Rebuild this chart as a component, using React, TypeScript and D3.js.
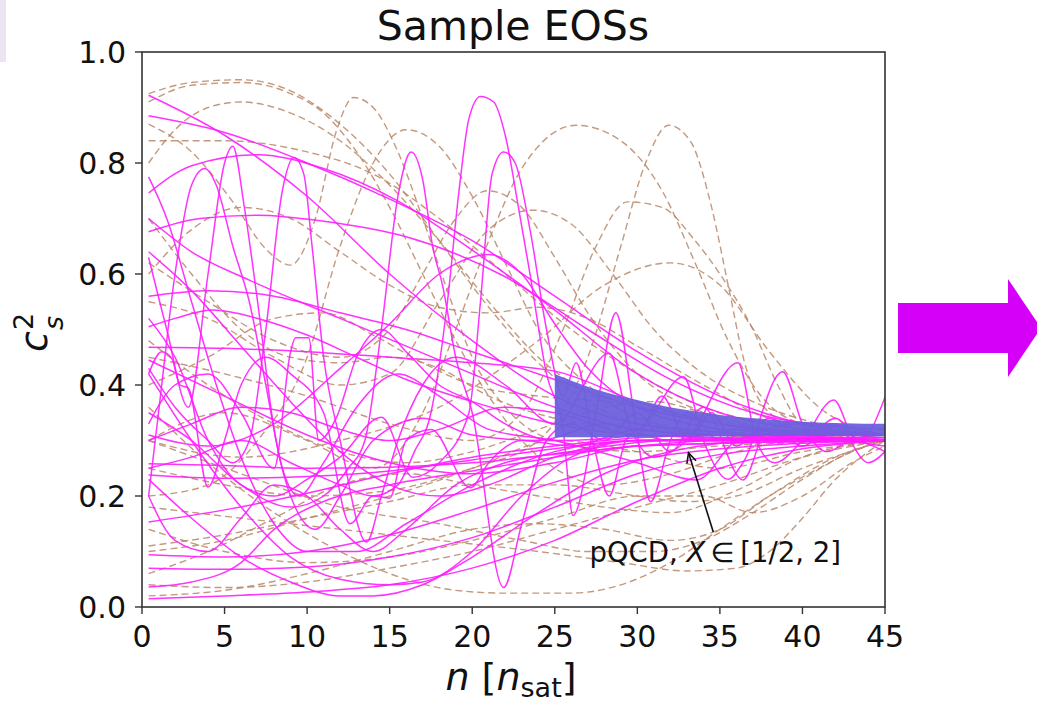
import React from 'react';
import * as d3 from 'd3';

type Pt = [number, number];

const TITLE = 'Sample EOSs';
const X_TICKS = [0, 5, 10, 15, 20, 25, 30, 35, 40, 45];
const Y_TICKS = [0, 0.2, 0.4, 0.6, 0.8, 1.0];

// smooth magenta EOS curves  [n, cs^2]
const MAGENTA_SMOOTH: Pt[][] = [
  [[0.4,0.922],[5,0.85],[10,0.74],[15,0.6],[20,0.48],[25,0.38],[30,0.33],[35,0.315],[40,0.305],[45,0.3]],
  [[0.4,0.885],[5,0.855],[10,0.8],[15,0.735],[20,0.66],[25,0.56],[30,0.46],[35,0.38],[40,0.33],[45,0.31]],
  [[0.4,0.746],[3,0.795],[7,0.815],[11,0.79],[15.4,0.733],[20,0.643],[25,0.535],[30,0.42],[35,0.35],[40,0.32],[45,0.31]],
  [[0.4,0.676],[3.5,0.7],[7,0.706],[11,0.695],[16,0.667],[22,0.595],[27,0.5],[32,0.41],[37,0.35],[42,0.325],[45,0.32]],
  [[0.4,0.7],[3,0.64],[6.5,0.589],[12,0.52],[16,0.47],[20,0.42],[25,0.36],[30,0.32],[35,0.31],[45,0.305]],
  [[0.4,0.56],[4,0.57],[8,0.56],[12,0.53],[16,0.5],[20,0.46],[25,0.41],[30,0.36],[35,0.33],[40,0.31],[45,0.31]],
  [[0.4,0.468],[5,0.466],[10,0.46],[15,0.45],[20,0.44],[25,0.425],[30,0.37],[35,0.33],[40,0.315],[45,0.31]],
  [[0.4,0.31],[4,0.29],[8,0.33],[12,0.43],[15,0.51],[18,0.6],[21,0.635],[23,0.6],[25,0.51],[27,0.43],[30,0.36],[35,0.32],[40,0.3],[45,0.3]],
  [[0.4,0.505],[2,0.52],[4.3,0.535],[7,0.52],[10,0.49],[13,0.45],[16,0.41],[20,0.37],[25,0.33],[30,0.31],[45,0.3]],
  [[0.4,0.258],[5,0.255],[10,0.25],[15,0.252],[20,0.26],[25,0.275],[30,0.29],[35,0.3],[40,0.3],[45,0.3]],
  [[0.4,0.238],[5,0.232],[10,0.235],[15,0.245],[20,0.265],[25,0.285],[30,0.3],[40,0.305],[45,0.3]],
  [[0.4,0.153],[5,0.175],[10,0.205],[15,0.24],[20,0.27],[25,0.29],[30,0.305],[35,0.31],[45,0.31]],
  [[0.4,0.094],[5,0.09],[10,0.1],[15,0.13],[20,0.175],[25,0.225],[30,0.265],[35,0.285],[40,0.295],[45,0.3]],
  [[0.4,0.07],[5,0.068],[10,0.072],[15,0.09],[20,0.125],[25,0.18],[30,0.24],[35,0.275],[40,0.29],[45,0.3]],
  [[0.4,0.036],[3,0.045],[6,0.08],[8,0.14],[11,0.19],[15,0.22],[20,0.245],[25,0.27],[30,0.29],[45,0.3]],
  [[0.4,0.015],[5,0.02],[10,0.027],[15,0.04],[20,0.07],[25,0.12],[30,0.19],[35,0.25],[40,0.285],[45,0.3]],
  [[0.4,0.23],[3,0.16],[6,0.09],[9,0.045],[12,0.02],[14,0.02],[17,0.04],[20,0.09],[24,0.17],[28,0.24],[32,0.28],[38,0.3],[45,0.3]],
  [[0.4,0.42],[3,0.3],[6,0.18],[9,0.09],[12,0.05],[15,0.04],[17,0.045],[20,0.1],[23,0.2],[26,0.27],[30,0.3],[45,0.305]],
  [[0.4,0.445],[5,0.38],[10,0.31],[15,0.26],[20,0.24],[25,0.26],[30,0.29],[45,0.3]],
  [[0.4,0.3],[3,0.33],[6,0.36],[9,0.35],[12,0.32],[15,0.3],[18,0.32],[22,0.36],[25,0.35],[30,0.31],[45,0.3]],
  [[0.4,0.2],[2,0.12],[4,0.1],[6,0.16],[8,0.22],[10,0.2],[12,0.14],[14,0.1],[16,0.14],[19,0.22],[22,0.26],[26,0.28],[32,0.3],[45,0.3]],
  [[0.4,0.775],[1.5,0.7],[3,0.55],[4.5,0.4],[6,0.27],[8,0.15],[10,0.1],[13,0.1],[16,0.15],[20,0.22],[25,0.28],[30,0.3],[45,0.3]],
  [[0.4,0.64],[3,0.57],[6,0.47],[9,0.37],[12,0.28],[15,0.22],[18,0.2],[21,0.22],[25,0.27],[30,0.3],[45,0.3]],
];

// oscillating magenta EOS curves
const MAGENTA_SPIKY: Pt[][] = [
  [[0.4,0.63],[1.5,0.5],[2.8,0.36],[4,0.6],[5,0.8],[5.5,0.83],[6.2,0.72],[7,0.55],[8,0.32],[9,0.2],[10.5,0.14],[12,0.2],[14,0.3],[17,0.34],[20,0.31],[24,0.3],[28,0.33],[32,0.3],[36,0.32],[40,0.3],[45,0.31]],
  [[0.4,0.2],[1,0.35],[2,0.6],[3,0.76],[3.8,0.79],[4.5,0.76],[5.5,0.65],[6.5,0.55],[7.5,0.4],[8.5,0.25],[9.5,0.2],[11,0.26],[13,0.36],[15.5,0.42],[18,0.38],[21,0.32],[25,0.3],[30,0.26],[33.6,0.229],[36,0.3],[40,0.33],[45,0.31]],
  [[0.4,0.43],[2,0.36],[4,0.3],[5.5,0.26],[6.5,0.3],[7.5,0.5],[8.5,0.75],[9.2,0.81],[9.8,0.78],[10.3,0.65],[11,0.45],[12,0.3],[13.6,0.117],[14.5,0.2],[15.5,0.3],[17,0.4],[19,0.45],[22,0.4],[25,0.33],[28.3,0.457],[29.5,0.33],[31,0.27],[33,0.3],[36.1,0.44],[37.2,0.3],[38.3,0.26],[40,0.3],[41.9,0.373],[43.2,0.3],[45,0.29]],
  [[0.4,0.35],[3,0.3],[6,0.22],[9,0.18],[11,0.2],[12.5,0.25],[13.5,0.3],[14.5,0.5],[15.5,0.74],[16.3,0.82],[17,0.77],[17.6,0.65],[18.2,0.58],[19,0.45],[20,0.35],[21.9,0.035],[23,0.15],[24.5,0.3],[26,0.33],[28,0.3],[30,0.35],[32,0.28],[34,0.36],[36.4,0.229],[38,0.33],[40,0.29],[42,0.33],[44,0.26],[45,0.28]],
  [[0.4,0.25],[3,0.27],[6,0.3],[9,0.26],[12,0.22],[14,0.2],[15.5,0.22],[16.5,0.28],[17.5,0.35],[18.5,0.55],[19.2,0.75],[19.8,0.88],[20.5,0.92],[21.3,0.91],[22,0.85],[22.8,0.72],[23.5,0.6],[24.5,0.42],[25.5,0.32],[26.1,0.165],[27.5,0.35],[28.7,0.53],[29.8,0.35],[30.8,0.19],[32,0.3],[33,0.35],[35,0.3],[37,0.32],[40,0.31],[45,0.3]],
  [[0.4,0.52],[2,0.45],[4,0.3],[6,0.22],[8,0.2],[10,0.23],[12,0.27],[14.5,0.342],[16.4,0.234],[18,0.26],[19.8,0.35],[20.5,0.55],[21.2,0.78],[21.9,0.82],[22.6,0.8],[23.5,0.68],[24.5,0.5],[25.5,0.38],[26.3,0.44],[27.3,0.3],[28.3,0.2],[29.3,0.3],[30.5,0.33],[32.8,0.415],[34,0.3],[35.5,0.23],[36.4,0.26],[38.8,0.424],[40,0.33],[41.5,0.28],[43,0.3],[45,0.28]],
  [[0.4,0.33],[2,0.4],[4,0.42],[6,0.35],[8,0.25],[9,0.46],[9.3,0.485],[10.1,0.485],[10.7,0.3],[11.8,0.343],[13,0.45],[14.5,0.5],[16,0.46],[18,0.4],[20,0.37],[22,0.33],[25,0.3],[30,0.31],[31.5,0.38],[33,0.3],[34.5,0.35],[36,0.29],[38,0.34],[40,0.3],[42,0.34],[43.5,0.3],[45,0.378]],
  [[0.4,0.42],[1.2,0.46],[1.8,0.448],[2.3,0.4],[2.8,0.395],[4,0.216],[5,0.3],[6,0.4],[7.5,0.45],[9,0.42],[11,0.35],[12.6,0.15],[14,0.2],[15,0.196],[16,0.3],[17.5,0.32],[19.9,0.215],[21,0.26],[23,0.3],[26,0.29],[30,0.32],[35,0.3],[40,0.32],[45,0.3]],
];

// dashed EOS curves, high-reaching
const DASHED_UPPER: Pt[][] = [
  [[0.4,0.925],[3,0.945],[6,0.95],[9,0.93],[12,0.87],[15,0.78],[18,0.66],[21,0.54],[24,0.44],[27,0.37],[30,0.33],[35,0.31],[45,0.3]],
  [[0.4,0.91],[3,0.94],[6,0.945],[9,0.925],[11,0.89],[13,0.82],[15,0.72],[17,0.6],[19,0.48],[21,0.38],[23,0.3],[25,0.25],[28,0.22],[32,0.24],[36,0.28],[40,0.3],[45,0.3]],
  [[0.4,0.84],[5,0.84],[10,0.82],[14,0.78],[18,0.7],[22,0.6],[26,0.5],[30,0.42],[34,0.36],[38,0.33],[45,0.31]],
  [[0.4,0.8],[2,0.86],[4,0.9],[6,0.91],[9,0.89],[12,0.84],[15,0.76],[18,0.66],[21,0.55],[24,0.45],[28,0.37],[33,0.32],[45,0.3]],
  [[0.4,0.87],[3,0.82],[5.5,0.73],[7.5,0.645],[9,0.616],[10.5,0.7],[11.8,0.86],[12.8,0.918],[14,0.9],[15.5,0.82],[17,0.7],[18.5,0.57],[20,0.45],[22,0.36],[25,0.3],[30,0.28],[35,0.29],[45,0.3]],
  [[0.4,0.2],[4,0.22],[7,0.3],[10,0.45],[12,0.65],[14,0.8],[16,0.86],[18,0.83],[20,0.74],[22,0.62],[24,0.5],[27,0.4],[30,0.34],[35,0.31],[45,0.3]],
  [[0.4,0.3],[5,0.35],[10,0.3],[14,0.25],[17,0.35],[19,0.5],[21,0.66],[23,0.79],[26.3,0.868],[29,0.84],[31.5,0.75],[33.5,0.62],[35.5,0.48],[37.5,0.38],[40,0.33],[45,0.31]],
  [[0.4,0.1],[5,0.12],[10,0.16],[15,0.2],[20,0.25],[24,0.3],[27,0.45],[29,0.65],[30.5,0.8],[31.9,0.868],[33.2,0.84],[34.5,0.72],[35.5,0.58],[36.5,0.44],[38,0.35],[41,0.31],[45,0.3]],
  [[0.4,0.45],[5,0.42],[10,0.38],[15,0.33],[20,0.3],[23,0.35],[25.5,0.5],[27.5,0.65],[29.4,0.73],[31.5,0.72],[33.5,0.66],[35,0.6],[37,0.5],[38.5,0.4],[40,0.33],[45,0.3]],
  [[0.4,0.55],[4,0.52],[8,0.45],[12,0.4],[15,0.42],[18,0.55],[21,0.68],[23.7,0.715],[26,0.69],[28.5,0.6],[31,0.5],[34,0.42],[37,0.37],[41,0.33],[45,0.31]],
  [[0.4,0.62],[4,0.55],[8,0.48],[12,0.45],[15,0.5],[17,0.6],[19,0.7],[20.9,0.75],[23,0.72],[25,0.63],[27,0.53],[30,0.42],[34,0.35],[40,0.31],[45,0.3]],
  [[0.4,0.6],[3,0.68],[6,0.72],[9,0.7],[12,0.64],[15,0.58],[18,0.54],[21,0.53],[24,0.54],[27,0.52],[30,0.47],[34,0.4],[38,0.34],[45,0.31]],
  [[0.4,0.3],[6,0.27],[12,0.3],[18,0.36],[24,0.48],[28,0.58],[32,0.62],[35,0.58],[38,0.46],[41,0.36],[45,0.31]],
];

// dashed EOS curves, low-lying
const DASHED_LOWER: Pt[][] = [
  [[0.4,0.36],[4,0.26],[8,0.17],[12,0.1],[16,0.05],[19,0.03],[22,0.025],[26,0.025],[29,0.04],[32,0.08],[35,0.14],[38,0.2],[41,0.25],[43,0.28],[45,0.3]],
  [[0.4,0.04],[5,0.035],[10,0.045],[15,0.07],[20,0.1],[25,0.14],[30,0.18],[35,0.22],[40,0.27],[45,0.3]],
  [[0.4,0.02],[5,0.03],[10,0.06],[15,0.1],[20,0.14],[24,0.15],[28,0.14],[32,0.12],[35,0.14],[38,0.2],[42,0.27],[45,0.3]],
  [[0.4,0.11],[5,0.13],[10,0.16],[15,0.19],[20,0.22],[25,0.22],[30,0.2],[33,0.19],[36,0.2],[40,0.25],[45,0.3]],
  [[0.4,0.25],[5,0.22],[10,0.2],[15,0.21],[20,0.25],[25,0.3],[30,0.28],[35,0.25],[40,0.28],[45,0.3]],
  [[0.4,0.7],[3,0.6],[6,0.5],[9,0.45],[12,0.44],[15,0.45],[18,0.43],[21,0.38],[25,0.34],[30,0.32],[45,0.3]],
  [[0.4,0.48],[4,0.4],[8,0.33],[12,0.28],[16,0.26],[20,0.28],[24,0.32],[28,0.36],[31,0.37],[34,0.35],[38,0.32],[45,0.3]],
  [[0.4,0.4],[4,0.45],[8,0.52],[11,0.53],[14,0.49],[17,0.44],[20,0.4],[24,0.38],[28,0.37],[32,0.35],[36,0.33],[45,0.3]],
  [[0.4,0.14],[5,0.1],[10,0.08],[15,0.09],[20,0.12],[25,0.16],[30,0.2],[34,0.2],[37,0.17],[40,0.2],[43,0.26],[45,0.29]],
  [[0.4,0.06],[4,0.1],[8,0.16],[12,0.22],[16,0.24],[20,0.22],[24,0.2],[28,0.18],[32,0.17],[36,0.21],[40,0.27],[45,0.3]],
  [[0.4,0.18],[6,0.16],[12,0.14],[18,0.12],[24,0.1],[29,0.08],[33,0.065],[36,0.07],[38,0.1],[40,0.16],[42,0.23],[44,0.28],[45,0.3]],
  [[0.4,0.3],[6,0.24],[12,0.18],[18,0.15],[23,0.12],[27,0.1],[31,0.1],[34,0.12],[37,0.17],[40,0.23],[43,0.28],[45,0.3]],
];

// pQCD band
const BAND_N = [25, 27.5, 30, 32.5, 35, 37.5, 40, 42.5, 45];
const BAND_TOP = [0.42, 0.392, 0.373, 0.357, 0.346, 0.339, 0.334, 0.331, 0.33];
const BAND_BOT = [0.306, 0.306, 0.306, 0.307, 0.307, 0.308, 0.308, 0.308, 0.307];

const ANNOT_TEXT = 'pQCD, ';
const ANNOT_TIP: Pt = [33.1, 0.278];
const ANNOT_TAIL: Pt = [34.6, 0.135];
const ANNOT_TEXT_POS: Pt = [27.1, 0.081];

export default function App() {
  const W = 1037, H = 703;
  const x = d3.scaleLinear().domain([0, 45]).range([142, 885]);
  const y = d3.scaleLinear().domain([0, 1]).range([607, 52]);
  const line = d3.line<Pt>().x(d => x(d[0])).y(d => y(d[1])).curve(d3.curveMonotoneX);
  const bandData = BAND_N.map((n, i) => ({ n, t: BAND_TOP[i], b: BAND_BOT[i] }));
  const area = d3.area<{ n: number; t: number; b: number }>()
    .x(d => x(d.n)).y0(d => y(d.b)).y1(d => y(d.t)).curve(d3.curveMonotoneX);

  const font = 'DejaVu Sans, Liberation Sans, sans-serif';
  const tip = [x(ANNOT_TIP[0]), y(ANNOT_TIP[1])];
  const tail = [x(ANNOT_TAIL[0]), y(ANNOT_TAIL[1])];
  const ang = Math.atan2(tail[1] - tip[1], tail[0] - tip[0]);
  const ah = 11, aw = 0.45;
  const a1 = [tip[0] + ah * Math.cos(ang + aw), tip[1] + ah * Math.sin(ang + aw)];
  const a2 = [tip[0] + ah * Math.cos(ang - aw), tip[1] + ah * Math.sin(ang - aw)];

  const magenta = '#ff1cff';
  const tan = '#b98768';

  return (
    <svg width={W} height={H} style={{ position: 'absolute', left: 0, top: 0, background: '#fff' }}
      fontFamily={font}>
      <rect x={0} y={0} width={W} height={H} fill="#fff" />
      <rect x={0} y={0} width={6} height={62} fill="#ebe5f2" />
      <defs>
        <clipPath id="plot"><rect x={142} y={52} width={743} height={555} /></clipPath>
      </defs>
      <g clipPath="url(#plot)">
        {[...DASHED_UPPER, ...DASHED_LOWER].map((c, i) => (
          <path key={'d' + i} d={line(c) || ''} fill="none" stroke={tan} strokeWidth={1.4}
            strokeDasharray="7,4" opacity={0.85} />
        ))}
        {[...MAGENTA_SMOOTH, ...MAGENTA_SPIKY].map((c, i) => (
          <path key={'m' + i} d={line(c) || ''} fill="none" stroke={magenta} strokeWidth={1.5} opacity={0.9} />
        ))}
        <path d={area(bandData) || ''} fill="#6c60dc" opacity={0.95} />
      </g>
      {/* spines */}
      <rect x={142} y={52} width={743} height={555} fill="none" stroke="#333" strokeWidth={1.6} />
      {X_TICKS.map(t => (
        <g key={'x' + t}>
          <line x1={x(t)} x2={x(t)} y1={607} y2={614} stroke="#333" strokeWidth={1.4} />
          <text x={x(t)} y={647} fontSize={30} textAnchor="middle" fill="#111">{t}</text>
        </g>
      ))}
      {Y_TICKS.map(t => (
        <g key={'y' + t}>
          <line x1={135} x2={142} y1={y(t)} y2={y(t)} stroke="#333" strokeWidth={1.4} />
          <text x={126} y={y(t) + 11} fontSize={30} textAnchor="end" fill="#111">{t.toFixed(1)}</text>
        </g>
      ))}
      <text x={513} y={40} fontSize={41} textAnchor="middle" fill="#111">{TITLE}</text>
      {/* x label */}
      <text x={511} y={690} fontSize={38} textAnchor="middle" fill="#111">
        <tspan fontStyle="italic">n</tspan>
        <tspan> [</tspan>
        <tspan fontStyle="italic">n</tspan>
        <tspan fontSize={27} dy={7}>sat</tspan>
        <tspan dy={-7}>]</tspan>
      </text>
      {/* y label */}
      <g transform="translate(47,352) rotate(-90)" fill="#111">
        <text x={0} y={0} fontSize={38} fontStyle="italic">c</text>
        <text x={22} y={16} fontSize={27} fontStyle="italic">s</text>
        <text x={22} y={-14} fontSize={27}>2</text>
      </g>
      {/* annotation */}
      <line x1={tail[0]} y1={tail[1]} x2={tip[0]} y2={tip[1]} stroke="#111" strokeWidth={1.6} />
      <polyline points={`${a1[0]},${a1[1]} ${tip[0]},${tip[1]} ${a2[0]},${a2[1]}`} fill="none" stroke="#111" strokeWidth={1.6} />
      <text x={x(ANNOT_TEXT_POS[0])} y={y(ANNOT_TEXT_POS[1])} fontSize={27.5} fill="#111">
        <tspan>{ANNOT_TEXT}</tspan>
        <tspan fontStyle="italic">X</tspan>
        <tspan>{'\u2009\u2208\u2009[1/2, 2]'}</tspan>
      </text>
      {/* big magenta arrow */}
      <polygon points="898,303 1008,303 1008,279 1041,328 1008,377 1008,353 898,353" fill="#d400f8" />
    </svg>
  );
}
